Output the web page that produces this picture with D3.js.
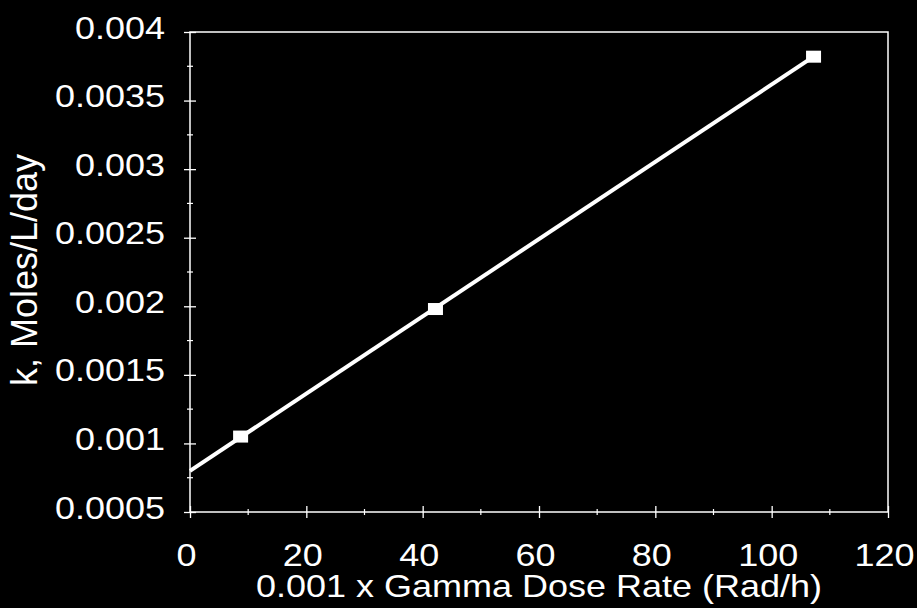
<!DOCTYPE html>
<html>
<head>
<meta charset="utf-8">
<script src="https://cdn.jsdelivr.net/npm/d3@7"></script>
<style>
  html, body { margin: 0; padding: 0; background: #000; }
  svg { display: block; }
  text { font-family: "Liberation Sans", Arial, sans-serif; fill: #fff; }
</style>
</head>
<body>
<svg id="chart" width="917" height="608"></svg>
<script>
// measured points
var doseRate = [8.7, 42.2, 107.2];
var kRate = [0.00105, 0.00198, 0.00382];

// linear fit, drawn between its two end points
var fitX = [0, 107.2];
var fitY = [0.0008, 0.00382];

var xTicks = [0, 20, 40, 60, 80, 100, 120];
var yTicks = [0.0005, 0.001, 0.0015, 0.002, 0.0025, 0.003, 0.0035, 0.004];
var xTitle = "0.001 x Gamma Dose Rate (Rad/h)";
var yTitle = "k, Moles/L/day";

var svg = d3.select("#chart"),
    margin = {top: 32, right: 29, bottom: 96, left: 190},
    width = +svg.attr("width") - margin.left - margin.right,
    height = +svg.attr("height") - margin.top - margin.bottom;

var x = d3.scaleLinear().domain([0, 120]).range([0, width]),
    y = d3.scaleLinear().domain([0.0005, 0.004]).range([height, 0]);

var g = svg.append("g")
    .attr("transform", "translate(" + margin.left + "," + margin.top + ")");

// minor ticks (half steps)
var xMinor = d3.range(10, 120, 20),
    yMinor = d3.range(0.00075, 0.004, 0.0005);

g.append("g")
    .attr("transform", "translate(0," + height + ")")
    .selectAll("line").data(xMinor).enter().append("line")
    .attr("x1", function(d) { return x(d); })
    .attr("x2", function(d) { return x(d); })
    .attr("y1", -3).attr("y2", 3)
    .attr("stroke", "#fff").attr("stroke-width", 1.2);

g.append("g")
    .selectAll("line").data(yMinor).enter().append("line")
    .attr("y1", function(d) { return y(d); })
    .attr("y2", function(d) { return y(d); })
    .attr("x1", -3).attr("x2", 3)
    .attr("stroke", "#fff").attr("stroke-width", 1.2);

// axes with crossing major ticks
var xAxis = g.append("g")
    .attr("class", "axis axis--x")
    .attr("transform", "translate(0," + height + ")")
    .call(d3.axisBottom(x).tickValues(xTicks).tickSize(6).tickPadding(0).tickFormat(d3.format("d")));

var yAxis = g.append("g")
    .attr("class", "axis axis--y")
    .call(d3.axisLeft(y).tickValues(yTicks).tickSize(6).tickPadding(0).tickFormat(function(d) { return String(+d.toFixed(4)); }));

[xAxis, yAxis].forEach(function(a) {
    a.select(".domain").remove();
    a.selectAll(".tick line").attr("stroke", "#fff").attr("stroke-width", 1.3);
    a.attr("font-size", null).attr("font-family", null);
});
xAxis.selectAll(".tick line").attr("y1", -6);
yAxis.selectAll(".tick line").attr("x1", 6);

xAxis.selectAll(".tick text")
    .attr("y", null).attr("dy", null)
    .attr("fill", "#fff")
    .style("font-size", "36px")
    .attr("transform", "translate(-4,54) scale(1,0.86)");

yAxis.selectAll(".tick text")
    .attr("x", null).attr("dy", null)
    .attr("fill", "#fff")
    .style("font-size", "36px")
    .style("text-anchor", "end")
    .attr("transform", "translate(-25,6) scale(1,0.86)");

// plot frame
g.append("rect")
    .attr("width", width).attr("height", height)
    .attr("fill", "none").attr("stroke", "#fff").attr("stroke-width", 1.5);

// fit line
var line = d3.line()
    .x(function(d) { return x(d[0]); })
    .y(function(d) { return y(d[1]); });

g.append("path")
    .datum(d3.zip(fitX, fitY))
    .attr("fill", "none")
    .attr("stroke", "#fff")
    .attr("stroke-width", 4)
    .attr("d", line);

// markers
g.selectAll(".pt")
    .data(d3.zip(doseRate, kRate))
    .enter().append("rect")
    .attr("class", "pt")
    .attr("x", function(d) { return x(d[0]) - 7.5; })
    .attr("y", function(d) { return y(d[1]) - 6; })
    .attr("width", 15).attr("height", 12)
    .attr("fill", "#fff");

// titles
svg.append("text")
    .attr("transform", "translate(" + (margin.left + width / 2) + ",597) scale(1,0.86)")
    .style("font-size", "36px")
    .style("text-anchor", "middle")
    .text(xTitle);

svg.append("text")
    .attr("transform", "translate(37," + (margin.top + height / 2 - 2) + ") rotate(-90)")
    .style("font-size", "36px")
    .style("text-anchor", "middle")
    .text(yTitle);
</script>
</body>
</html>
